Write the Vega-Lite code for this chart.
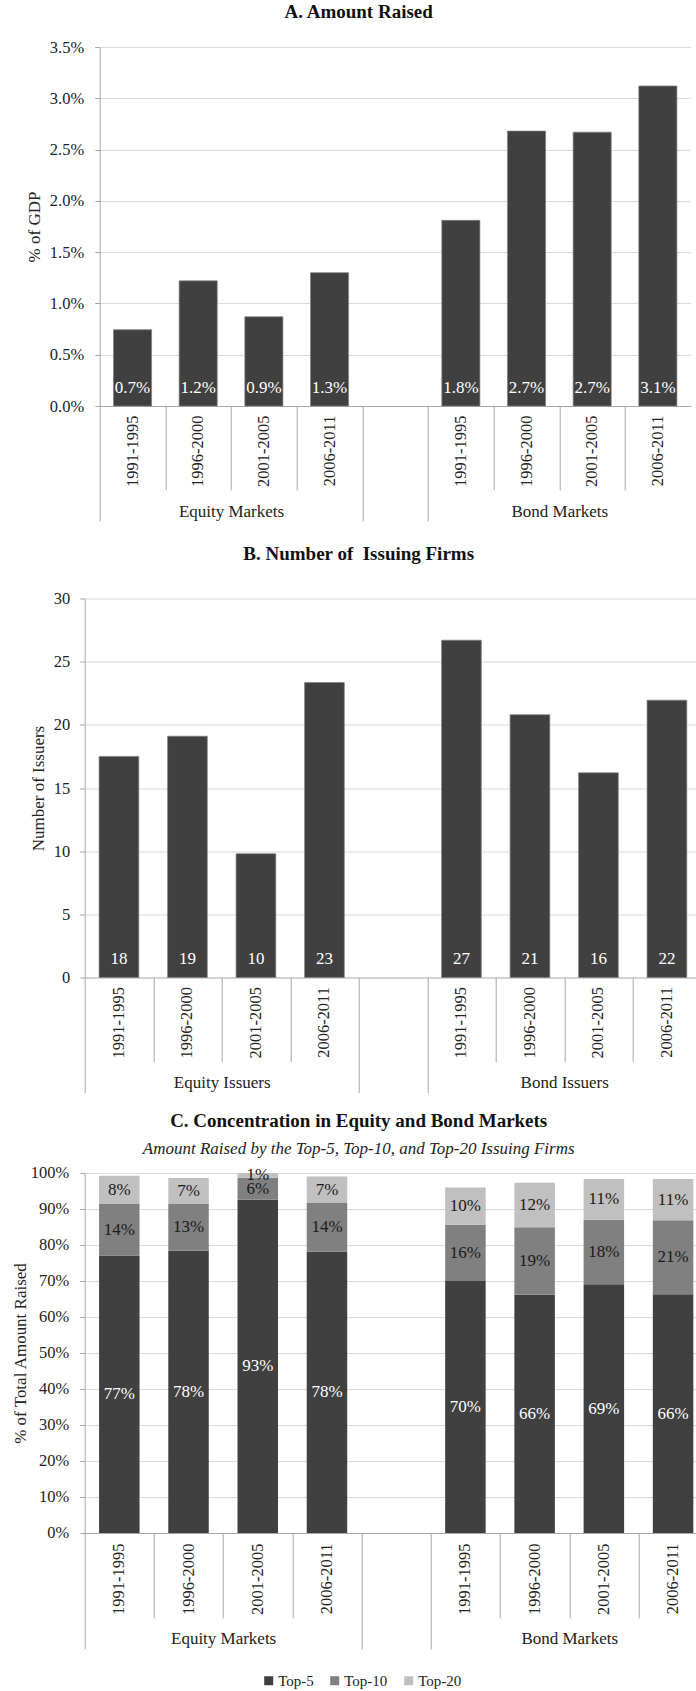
{
  "$schema": "https://vega.github.io/schema/vega-lite/v6.json",
  "background": "white",
  "padding": {"left": 10.7, "top": 3, "right": 0, "bottom": 0},
  "config": {
    "font": "Liberation Serif",
    "view": {"stroke": null},
    "axis": {
      "labelFont": "Liberation Serif",
      "titleFont": "Liberation Serif",
      "labelFontSize": 16.5,
      "titleFontSize": 17,
      "titleFontWeight": "normal",
      "labelColor": "#222222",
      "titleColor": "#222222",
      "domainColor": "#a6a6a6",
      "tickColor": "#a6a6a6",
      "gridColor": "#d9d9d9"
    },
    "title": {"font": "Liberation Serif", "fontSize": 19, "fontWeight": "bold", "color": "#111111", "anchor": "middle"},
    "legend": {"labelFont": "Liberation Serif"}
  },
  "datasets": {
    "amount": [
      {"group": "Equity Markets", "period": "1991-1995", "key": "E 1991-1995", "value": 0.00744},
      {"group": "Equity Markets", "period": "1996-2000", "key": "E 1996-2000", "value": 0.0122},
      {"group": "Equity Markets", "period": "2001-2005", "key": "E 2001-2005", "value": 0.0087},
      {"group": "Equity Markets", "period": "2006-2011", "key": "E 2006-2011", "value": 0.0130},
      {"group": "Bond Markets", "period": "1991-1995", "key": "B 1991-1995", "value": 0.0181},
      {"group": "Bond Markets", "period": "1996-2000", "key": "B 1996-2000", "value": 0.0268},
      {"group": "Bond Markets", "period": "2001-2005", "key": "B 2001-2005", "value": 0.0267},
      {"group": "Bond Markets", "period": "2006-2011", "key": "B 2006-2011", "value": 0.0312}
    ],
    "issuers": [
      {"group": "Equity Issuers", "period": "1991-1995", "key": "E 1991-1995", "value": 17.5},
      {"group": "Equity Issuers", "period": "1996-2000", "key": "E 1996-2000", "value": 19.1},
      {"group": "Equity Issuers", "period": "2001-2005", "key": "E 2001-2005", "value": 9.8},
      {"group": "Equity Issuers", "period": "2006-2011", "key": "E 2006-2011", "value": 23.35},
      {"group": "Bond Issuers", "period": "1991-1995", "key": "B 1991-1995", "value": 26.7},
      {"group": "Bond Issuers", "period": "1996-2000", "key": "B 1996-2000", "value": 20.8},
      {"group": "Bond Issuers", "period": "2001-2005", "key": "B 2001-2005", "value": 16.2},
      {"group": "Bond Issuers", "period": "2006-2011", "key": "B 2006-2011", "value": 21.95}
    ],
    "conc": [
      {"key": "E 1991-1995", "tier": "Top-5", "rank": 1, "value": 0.771},
      {"key": "E 1991-1995", "tier": "Top-10", "rank": 2, "value": 0.144},
      {"key": "E 1991-1995", "tier": "Top-20", "rank": 3, "value": 0.077},
      {"key": "E 1996-2000", "tier": "Top-5", "rank": 1, "value": 0.784},
      {"key": "E 1996-2000", "tier": "Top-10", "rank": 2, "value": 0.131},
      {"key": "E 1996-2000", "tier": "Top-20", "rank": 3, "value": 0.071},
      {"key": "E 2001-2005", "tier": "Top-5", "rank": 1, "value": 0.926},
      {"key": "E 2001-2005", "tier": "Top-10", "rank": 2, "value": 0.061},
      {"key": "E 2001-2005", "tier": "Top-20", "rank": 3, "value": 0.013},
      {"key": "E 2006-2011", "tier": "Top-5", "rank": 1, "value": 0.781},
      {"key": "E 2006-2011", "tier": "Top-10", "rank": 2, "value": 0.137},
      {"key": "E 2006-2011", "tier": "Top-20", "rank": 3, "value": 0.072},
      {"key": "B 1991-1995", "tier": "Top-5", "rank": 1, "value": 0.700},
      {"key": "B 1991-1995", "tier": "Top-10", "rank": 2, "value": 0.156},
      {"key": "B 1991-1995", "tier": "Top-20", "rank": 3, "value": 0.104},
      {"key": "B 1996-2000", "tier": "Top-5", "rank": 1, "value": 0.662},
      {"key": "B 1996-2000", "tier": "Top-10", "rank": 2, "value": 0.187},
      {"key": "B 1996-2000", "tier": "Top-20", "rank": 3, "value": 0.124},
      {"key": "B 2001-2005", "tier": "Top-5", "rank": 1, "value": 0.691},
      {"key": "B 2001-2005", "tier": "Top-10", "rank": 2, "value": 0.179},
      {"key": "B 2001-2005", "tier": "Top-20", "rank": 3, "value": 0.113},
      {"key": "B 2006-2011", "tier": "Top-5", "rank": 1, "value": 0.663},
      {"key": "B 2006-2011", "tier": "Top-10", "rank": 2, "value": 0.206},
      {"key": "B 2006-2011", "tier": "Top-20", "rank": 3, "value": 0.114}
    ]
  },
  "resolve": {"legend": {"color": "independent"}, "scale": {"color": "independent"}},
  "spacing": 10.5,
  "vconcat": [
    {
      "width": 606,
      "height": 359,
      "data": {"name": "amount"},
      "title": {"text": "A. Amount Raised", "dx": -29, "offset": 17},
      "resolve": {"axis": {"x": "independent"}},
      "layer": [
        {
          "mark": {"type": "bar", "width": {"band": 0.58}, "color": "#404040", "stroke": "#7f7f7f", "strokeWidth": 0.7},
          "encoding": {
            "x": {
              "field": "key", "type": "nominal",
              "scale": {"domain": ["E 1991-1995","E 1996-2000","E 2001-2005","E 2006-2011","gap","B 1991-1995","B 1996-2000","B 2001-2005","B 2006-2011"], "paddingInner": 0, "paddingOuter": 0, "range": [15, 606]},
              "axis": {"orient": "bottom", "title": null, "ticks": false, "domain": false, "grid": false, "labelAngle": -90, "labelPadding": 9, "labelOverlap": false, "labelExpr": "datum.value === 'gap' ? '' : slice(datum.value, 2)"}
            },
            "y": {
              "field": "value", "type": "quantitative",
              "scale": {"domain": [0, 0.035], "nice": false},
              "axis": {
                "values": [0, 0.005, 0.01, 0.015, 0.02, 0.025, 0.03, 0.035],
                "format": ".1%", "tickSize": 5, "labelPadding": 11, "offset": -15,
                "title": "% of GDP", "titleBaseline": "top", "titleX": -73.5,
                "gridColor": {"condition": {"test": "datum.value === 0", "value": "#a6a6a6"}, "value": "#d9d9d9"}
              }
            }
          }
        },
        {
          "mark": {"type": "text", "baseline": "alphabetic", "dy": -13, "color": "#ffffff", "fontSize": 17, "font": "Liberation Serif"},
          "encoding": {
            "x": {
              "field": "key", "type": "nominal",
              "axis": {
                "orient": "bottom", "title": null, "domain": false, "grid": false, "tickBand": "extent",
                "values": ["E 1991-1995","E 1996-2000","E 2001-2005","E 2006-2011","gap","B 1991-1995","B 1996-2000","B 2001-2005"],
                "tickSize": {"condition": {"test": "datum.extra || datum.value === 'E 2006-2011' || datum.value === 'gap'", "value": 115}, "value": 84},
                "labelFontSize": {"condition": {"test": "datum.value === 'E 1996-2000' || datum.value === 'B 1996-2000'", "value": 17}, "value": 0},
                "labelAngle": 0, "labelBaseline": "top", "labelAlign": "center", "labelOffset": 32.83, "labelPadding": 13, "labelOverlap": false,
                "labelExpr": "datum.value === 'E 1996-2000' ? 'Equity Markets' : datum.value === 'B 1996-2000' ? 'Bond Markets' : ''"
              }
            },
            "y": {
              "datum": 0, "type": "quantitative",
              "axis": {
                "values": [0, 0.005, 0.01, 0.015, 0.02, 0.025, 0.03, 0.035],
                "format": ".1%", "tickSize": 5, "labelPadding": 11, "offset": -15,
                "title": "% of GDP", "titleBaseline": "top", "titleX": -73.5,
                "gridColor": {"condition": {"test": "datum.value === 0", "value": "#a6a6a6"}, "value": "#d9d9d9"}
              }
            },
            "text": {"field": "value", "type": "quantitative", "format": ".1%"}
          }
        }
      ]
    },
    {
      "resolve": {"legend": {"color": "independent"}, "scale": {"color": "independent"}},
      "spacing": 6.5,
      "vconcat": [
        {
          "width": 616.5,
          "height": 379,
          "data": {"name": "issuers"},
          "title": {"text": "B. Number of\u00a0 Issuing Firms", "dx": -34.25, "offset": 26.5},
          "resolve": {"axis": {"x": "independent"}},
          "layer": [
            {
              "mark": {"type": "bar", "width": {"band": 0.58}, "color": "#404040", "stroke": "#7f7f7f", "strokeWidth": 0.7},
              "encoding": {
                "x": {
                  "field": "key", "type": "nominal",
                  "scale": {"domain": ["E 1991-1995","E 1996-2000","E 2001-2005","E 2006-2011","gap","B 1991-1995","B 1996-2000","B 2001-2005","B 2006-2011"], "paddingInner": 0, "paddingOuter": 0},
                  "axis": {"orient": "bottom", "title": null, "ticks": false, "domain": false, "grid": false, "labelAngle": -90, "labelPadding": 9, "labelOverlap": false, "labelExpr": "datum.value === 'gap' ? '' : slice(datum.value, 2)"}
                },
                "y": {
                  "field": "value", "type": "quantitative",
                  "scale": {"domain": [0, 30], "nice": false},
                  "axis": {
                    "values": [0, 5, 10, 15, 20, 25, 30],
                    "tickSize": 5, "labelPadding": 10,
                    "title": "Number of Issuers", "titleBaseline": "top", "titleX": -54.5,
                    "gridColor": {"condition": {"test": "datum.value === 0", "value": "#a6a6a6"}, "value": "#d9d9d9"}
                  }
                }
              }
            },
            {
              "mark": {"type": "text", "baseline": "alphabetic", "dy": -13, "color": "#ffffff", "fontSize": 17, "font": "Liberation Serif"},
              "encoding": {
                "x": {
                  "field": "key", "type": "nominal",
                  "axis": {
                    "orient": "bottom", "title": null, "domain": false, "grid": false, "tickBand": "extent",
                    "values": ["E 1991-1995","E 1996-2000","E 2001-2005","E 2006-2011","gap","B 1991-1995","B 1996-2000","B 2001-2005"],
                    "tickSize": {"condition": {"test": "datum.extra || datum.value === 'E 2006-2011' || datum.value === 'gap'", "value": 115}, "value": 84},
                    "labelFontSize": {"condition": {"test": "datum.value === 'E 1996-2000' || datum.value === 'B 1996-2000'", "value": 17}, "value": 0},
                    "labelAngle": 0, "labelBaseline": "top", "labelAlign": "center", "labelOffset": 34.25, "labelPadding": 13, "labelOverlap": false,
                    "labelExpr": "datum.value === 'E 1996-2000' ? 'Equity Issuers' : datum.value === 'B 1996-2000' ? 'Bond Issuers' : ''"
                  }
                },
                "y": {
                  "datum": 0, "type": "quantitative",
                  "axis": {
                    "values": [0, 5, 10, 15, 20, 25, 30],
                    "tickSize": 5, "labelPadding": 10,
                    "title": "Number of Issuers", "titleBaseline": "top", "titleX": -54.5,
                    "gridColor": {"condition": {"test": "datum.value === 0", "value": "#a6a6a6"}, "value": "#d9d9d9"}
                  }
                },
                "text": {"field": "value", "type": "quantitative", "format": ".0f"}
              }
            }
          ]
        },
        {
          "width": 623,
          "height": 360,
          "data": {"name": "conc"},
          "title": {
            "text": "C. Concentration in Equity and Bond Markets",
            "subtitle": "Amount Raised by the Top-5, Top-10, and Top-20 Issuing Firms",
            "subtitleFont": "Liberation Serif", "subtitleFontStyle": "italic", "subtitleFontSize": 17, "subtitleColor": "#222222", "subtitlePadding": 10,
            "dx": -37.5, "offset": 8
          },
          "resolve": {"axis": {"x": "independent"}},
          "layer": [
            {
              "mark": {"type": "bar", "width": {"band": 0.585}},
              "encoding": {
                "x": {
                  "field": "key", "type": "nominal",
                  "scale": {"domain": ["E 1991-1995","E 1996-2000","E 2001-2005","E 2006-2011","gap","B 1991-1995","B 1996-2000","B 2001-2005","B 2006-2011"], "paddingInner": 0, "paddingOuter": 0},
                  "axis": {"orient": "bottom", "title": null, "ticks": false, "domain": false, "grid": false, "labelAngle": -90, "labelPadding": 10, "labelOverlap": false, "labelExpr": "datum.value === 'gap' ? '' : slice(datum.value, 2)"}
                },
                "y": {
                  "field": "value", "type": "quantitative", "stack": "zero",
                  "scale": {"domain": [0, 1], "nice": false},
                  "axis": {
                    "values": [0, 0.1, 0.2, 0.3, 0.4, 0.5, 0.6, 0.7, 0.8, 0.9, 1],
                    "format": ".0%", "tickSize": 5, "labelPadding": 11,
                    "title": "% of Total Amount Raised", "titleBaseline": "top", "titleX": -72.5,
                    "gridColor": {"condition": {"test": "datum.value === 0", "value": "#a6a6a6"}, "value": "#d9d9d9"}
                  }
                },
                "color": {
                  "field": "tier", "type": "nominal",
                  "scale": {"domain": ["Top-5", "Top-10", "Top-20"], "range": ["#404040", "#808080", "#c0c0c0"]},
                  "legend": {"orient": "none", "legendX": 176.5, "legendY": 500, "direction": "horizontal", "title": null, "symbolType": "square", "symbolSize": 81, "symbolStrokeWidth": 0, "labelFontSize": 15, "labelOffset": 2, "columnPadding": 13, "padding": 0, "labelColor": "#222222"}
                },
                "order": {"field": "rank", "type": "quantitative"}
              }
            },
            {
              "mark": {"type": "text", "baseline": "middle", "fontSize": 17, "font": "Liberation Serif"},
              "encoding": {
                "x": {
                  "field": "key", "type": "nominal",
                  "axis": {
                    "orient": "bottom", "title": null, "domain": false, "grid": false, "tickBand": "extent",
                    "values": ["E 1991-1995","E 1996-2000","E 2001-2005","E 2006-2011","gap","B 1991-1995","B 1996-2000","B 2001-2005"],
                    "tickSize": {"condition": {"test": "datum.extra || datum.value === 'E 2006-2011' || datum.value === 'gap'", "value": 116}, "value": 85},
                    "labelFontSize": {"condition": {"test": "datum.value === 'E 1996-2000' || datum.value === 'B 1996-2000'", "value": 17}, "value": 0},
                    "labelAngle": 0, "labelBaseline": "top", "labelAlign": "center", "labelOffset": 34.6, "labelPadding": 13, "labelOverlap": false,
                    "labelExpr": "datum.value === 'E 1996-2000' ? 'Equity Markets' : datum.value === 'B 1996-2000' ? 'Bond Markets' : ''"
                  }
                },
                "y": {
                  "field": "value", "type": "quantitative", "stack": "zero", "bandPosition": 0.5,
                  "axis": {
                    "values": [0, 0.1, 0.2, 0.3, 0.4, 0.5, 0.6, 0.7, 0.8, 0.9, 1],
                    "format": ".0%", "tickSize": 5, "labelPadding": 11,
                    "title": "% of Total Amount Raised", "titleBaseline": "top", "titleX": -72.5,
                    "gridColor": {"condition": {"test": "datum.value === 0", "value": "#a6a6a6"}, "value": "#d9d9d9"}
                  }
                },
                "detail": {"field": "tier"},
                "order": {"field": "rank", "type": "quantitative"},
                "color": {"condition": {"test": "datum.tier === 'Top-5'", "value": "#ffffff"}, "value": "#1a1a1a"},
                "text": {"field": "value", "type": "quantitative", "format": ".0%"}
              }
            }
          ]
        }
      ]
    }
  ]
}
